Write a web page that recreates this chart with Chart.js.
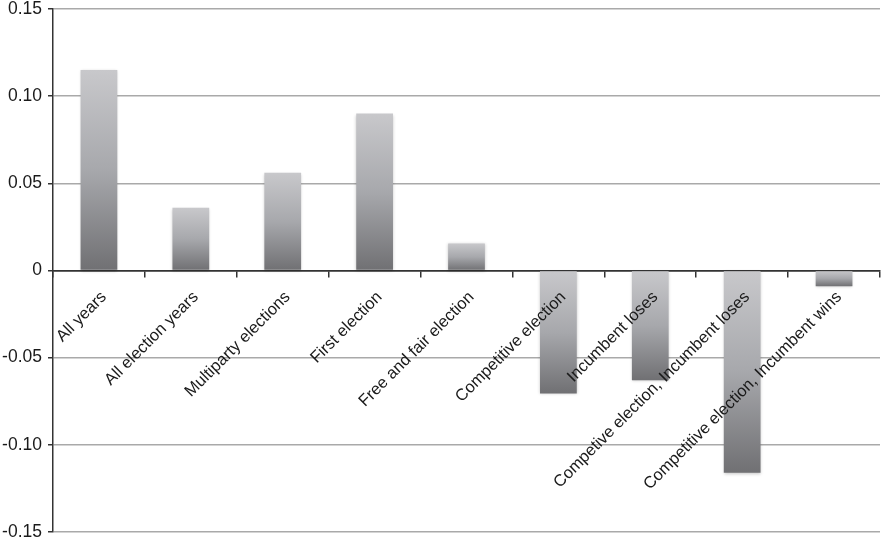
<!DOCTYPE html>
<html>
<head>
<meta charset="utf-8">
<script src="https://cdn.jsdelivr.net/npm/chart.js@4.4.1/dist/chart.umd.min.js"></script>
<style>
  html, body { margin: 0; padding: 0; background: #fff; }
  #wrap { width: 882px; height: 542px; }
</style>
</head>
<body>
<div id="wrap"><canvas id="chart" width="882" height="542"></canvas></div>
<script>
const categories = [
    "All years",
    "All election years",
    "Multiparty elections",
    "First election",
    "Free and fair election",
    "Competitive election",
    "Incumbent loses",
    "Competive election, Incumbent loses",
    "Competitive election, Incumbent wins",
];
const effects = [0.115, 0.036, 0.056, 0.09, 0.0155, -0.0705, -0.063, -0.116, -0.009];
const yTicks = [-0.15, -0.1, -0.05, 0, 0.05, 0.1, 0.15];

const FONT = "'Liberation Sans', Arial, Helvetica, sans-serif";

// light at the top of each bar, dark at its bottom
function barGradient(context) {
    const chart = context.chart;
    const y = chart.scales.y;
    if (!chart.chartArea || !y) return "#9a9a9c";
    const v = context.raw;
    const top = y.getPixelForValue(Math.max(v, 0));
    const bottom = y.getPixelForValue(Math.min(v, 0));
    const g = chart.ctx.createLinearGradient(0, top, 0, bottom);
    g.addColorStop(0, "#c8c8cb");
    g.addColorStop(0.5, "#a7a8ac");
    g.addColorStop(1, "#707073");
    return g;
}

const barShadow = {
    id: "barShadow",
    beforeDatasetsDraw(chart) {
        const ctx = chart.ctx;
        ctx.save();
        ctx.shadowColor = "rgba(0,0,0,0.22)";
        ctx.shadowBlur = 3;
        ctx.shadowOffsetX = 0;
        ctx.shadowOffsetY = 1;
    },
    afterDatasetsDraw(chart) {
        chart.ctx.restore();
    },
};

new Chart(document.getElementById("chart"), {
    type: "bar",

    data: {
        labels: categories,

        datasets: [
            {
                data: effects,
                backgroundColor: barGradient,
                borderWidth: 0,
                barPercentage: 0.4,
                categoryPercentage: 1,
            },
        ],
    },

    plugins: [barShadow],

    options: {
        responsive: false,
        animation: false,
        events: [],

        layout: {
            padding: { top: 9, right: 2, bottom: 10, left: 0 },
        },

        plugins: {
            legend: { display: false },
            tooltip: { enabled: false },
        },

        scales: {
            x: {
                position: { y: 0 },

                grid: {
                    drawOnChartArea: false,
                    offset: true,
                    color: "#333",
                    lineWidth: 1.5,
                    tickLength: 6,
                },

                border: { color: "#333", width: 1.5 },

                ticks: {
                    z: 1,
                    autoSkip: false,
                    minRotation: 45,
                    maxRotation: 45,
                    padding: 11,
                    labelOffset: 5,
                    color: "#1a1a1a",
                    font: { family: FONT, size: 16.5 },
                },
            },

            y: {
                min: -0.15,
                max: 0.15,

                afterBuildTicks: (scale) => {
                    scale.ticks = yTicks.map((v) => ({ value: v }));
                },

                afterFit: (scale) => {
                    scale.width = 53;
                    scale.paddingTop = 0;
                    scale.paddingBottom = 0;
                },

                grid: {
                    color: (c) => (c.tick && c.tick.value === 0 ? "#333" : "#a9a9a9"),
                    lineWidth: 1.5,
                    tickColor: "#333",
                    tickLength: 5,
                },

                border: { color: "#333", width: 1.5 },

                ticks: {
                    padding: 6,
                    color: "#1a1a1a",
                    font: { family: FONT, size: 17.5 },
                    callback: (v) => (v === 0 ? "0" : v.toFixed(2)),
                },
            },
        },
    },
});
</script>
</body>
</html>
